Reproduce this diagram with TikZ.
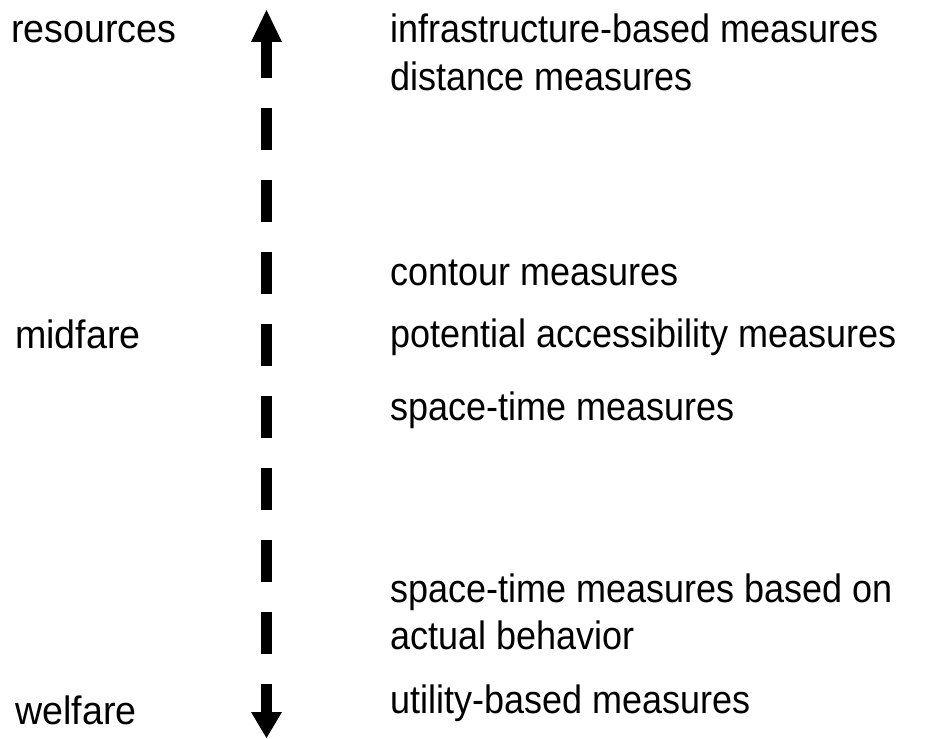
\documentclass[tikz,border=0pt]{standalone}
\usepackage{fontspec}
\setmainfont{Liberation Sans}
\usepackage{graphicx}
\newcommand\vstretch[1]{\scalebox{1}[1.1]{#1}}
\newcommand\lstretch[1]{\scalebox{1.045}[1.1]{#1}}
\begin{document}
\begin{tikzpicture}[x=0.75pt,y=-0.75pt,
  lbl/.style={anchor=base west,inner sep=0pt,font=\fontsize{27pt}{32pt}\selectfont},
  shaft/.style={line width=8.25pt,dash pattern=on 31.5pt off 22.5pt,dash phase=4.5pt},
  headfill/.style={fill=black}]
\useasboundingbox (0,0) rectangle (934,738);
% arrow
\coordinate (tip) at (266.5,10);
\coordinate (tail) at (266.5,738);
\coordinate (s) at (266.5,42);
\coordinate (e) at (266.5,712);
\draw[shaft] (s) -- (e);
\fill[headfill] (251,42) -- (tip) -- (282,42) -- cycle;
\fill[headfill] (251,712) -- (tail) -- (282,712) -- cycle;
% left labels
\node[lbl] (res) at (11,43) {\lstretch{resources}};
\node[lbl] (mid) at (15,348) {\lstretch{midfare}};
\node[lbl] (wel) at (15,724) {\lstretch{welfare}};
% right labels
\node[lbl] (m1) at (390,43) {\vstretch{infrastructure-based measures}};
\node[lbl] (m2) at (390,90.5) {\vstretch{distance measures}};
\node[lbl] (m3) at (390,285) {\vstretch{contour measures}};
\node[lbl] (m4) at (390,347) {\vstretch{potential accessibility measures}};
\node[lbl] (m5) at (390,420) {\vstretch{space-time measures}};
\node[lbl] (m6) at (390,602) {\vstretch{space-time measures based on}};
\node[lbl] (m7) at (390,649) {\vstretch{actual behavior}};
\node[lbl] (m8) at (390,713) {\vstretch{utility-based measures}};
\end{tikzpicture}
\end{document}
